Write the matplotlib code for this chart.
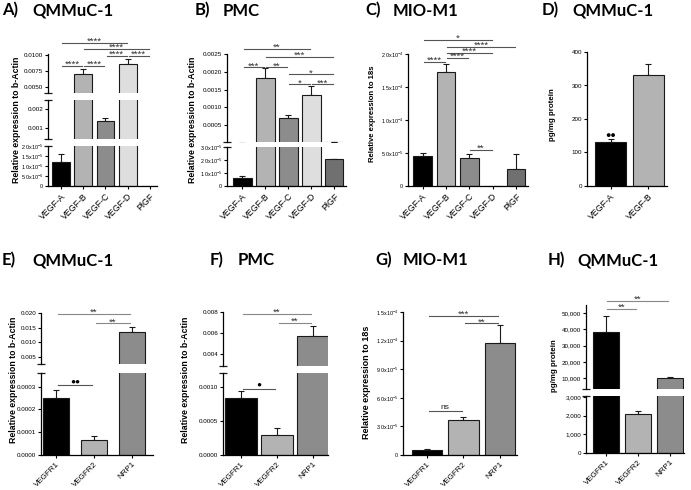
import numpy as np
import matplotlib
matplotlib.use("Agg")
import matplotlib.pyplot as plt

plt.rcParams['font.family'] = ['Liberation Sans', 'DejaVu Sans']
plt.rcParams['mathtext.fontset'] = 'custom'
plt.rcParams['mathtext.rm'] = 'Liberation Sans'
plt.rcParams['mathtext.it'] = 'Liberation Sans:italic'
plt.rcParams['mathtext.bf'] = 'Liberation Sans:bold'

W, H = 691, 490

# ---- data ----
vegf_labels = ["VEGF-A", "VEGF-B", "VEGF-C", "VEGF-D", "PlGF"]
rec_labels = ["VEGFR1", "VEGFR2", "NRP1"]
elisa_labels = ["VEGF-A", "VEGF-B"]

qmm_vegf = [1.2e-5, 0.0070, 0.00137, 0.0085, 0.0]
qmm_vegf_err = [0.4e-5, 0.0008, 0.00016, 0.0008, 0.0]
pmc_vegf = [6e-6, 0.00183, 0.00070, 0.00135, 2.05e-5]
pmc_vegf_err = [2e-6, 0.00028, 0.00010, 0.00025, 0.05e-5]
mio_vegf = [4.6e-5, 1.72e-4, 4.3e-5, 0.0, 2.6e-5]
mio_vegf_err = [0.4e-5, 0.13e-4, 0.5e-5, 0.0, 2.3e-5]
qmm_elisa = [130, 330]
qmm_elisa_err = [10, 35]

qmm_rec = [0.00025, 0.000067, 0.0135]
qmm_rec_err = [0.000035, 0.000015, 0.0017]
pmc_rec = [0.00083, 0.00030, 0.0057]
pmc_rec_err = [0.00011, 0.00009, 0.0010]
mio_rec = [5.5e-6, 3.7e-5, 1.17e-4]
mio_rec_err = [0.5e-6, 0.3e-5, 0.19e-4]
qmm_rec_elisa = [38500, 2100, 10300]
qmm_rec_elisa_err = [9500, 150, 500]

# significance brackets: (bar i, bar j, height, label)
sig_a = [(0, 3, 0.0118, "****"), (1, 4, 0.0109, "****"), (2, 3, 0.0098, "****"),
         (3, 4, 0.0098, "****"), (0, 1, 0.0082, "****"), (1, 2, 0.0082, "****")]
sig_b = [(0, 3, 0.00264, "**"), (1, 4, 0.00242, "***"), (0, 1, 0.00213, "***"),
         (1, 2, 0.00213, "**"), (2, 4, 0.00193, "*"), (2, 3, 0.00165, "*"),
         (3, 4, 0.00165, "***")]
sig_c = [(0, 3, 2.21e-4, "*"), (1, 4, 2.11e-4, "****"), (1, 3, 2.02e-4, "****"),
         (1, 2, 1.94e-4, "****"), (0, 1, 1.88e-4, "****"), (2, 3, 5.45e-5, "**")]
sig_e_top = [(0, 2, 0.0197, "**"), (1, 2, 0.0165, "**")]
sig_e_low = [(0, 1, 0.000307, "●●")]
sig_f_top = [(0, 2, 0.0078, "**"), (1, 2, 0.0070, "**")]
sig_f_low = [(0, 1, 0.00097, "●")]
sig_g = [(0, 2, 1.46e-4, "***"), (1, 2, 1.38e-4, "**"), (0, 1, 4.6e-5, "ns")]
sig_h = [(0, 2, 57400, "**"), (0, 1, 52500, "**")]

# tick labels
a_low_ticks = ["0", "5.0x10$^{-6}$", "1.0x10$^{-5}$", "1.5x10$^{-5}$", "2.0x10$^{-5}$"]
b_low_ticks = ["0", "1.0x10$^{-5}$", "2.0x10$^{-5}$", "3.0x10$^{-5}$"]
c_ticks = ["0", "5.0x10$^{-5}$", "1.0x10$^{-4}$", "1.5x10$^{-4}$", "2.0x10$^{-4}$"]
g_ticks = ["0", "3.0x10$^{-5}$", "6.0x10$^{-5}$", "9.0x10$^{-5}$", "1.2x10$^{-4}$",
           "1.5x10$^{-4}$"]

vegf_colors = ['#000000', '#b3b3b3', '#8c8c8c', '#dedede', '#707070']
rec_colors = ['#000000', '#b3b3b3', '#8c8c8c']
elisa_colors = ['#000000', '#b3b3b3']

fig = plt.figure(figsize=(W / 100, H / 100), dpi=100)
EDGE = '#1a1a1a'


def px_axes(x0, x1, yb, yt):
    return fig.add_axes([x0 / W, 1 - yb / H, (x1 - x0) / W, (yb - yt) / H])


def draw_panel(x0, x1, segments, labels, values, errs, colors, xlim, width, xfs=6.3):
    """segments: bottom first, (ylo, yhi, px_bottom, px_top, ticks, ticklabels)"""
    axes = []
    n = len(segments)
    x = np.arange(len(values))
    for k, (ylo, yhi, pb, pt, ticks, tlabels) in enumerate(segments):
        ax = px_axes(x0, x1, pb, pt)
        ax.bar(x, values, width, color=colors, edgecolor=EDGE, linewidth=0.8, zorder=2)
        has = [i for i in range(len(errs)) if errs[i] > 0]
        ax.errorbar([x[i] for i in has], [values[i] for i in has],
                    yerr=[[0] * len(has), [errs[i] for i in has]], fmt='none',
                    ecolor=EDGE, elinewidth=0.8, capsize=2.5, capthick=0.8, zorder=1)
        ax.set_xlim(*xlim)
        ax.set_ylim(ylo, yhi)
        ax.set_yticks(ticks)
        ax.set_yticklabels(tlabels)
        exp_labels = any('$' in t for t in tlabels)
        ax.tick_params(axis='y', direction='out', length=2.5, width=0.8,
                       labelsize=3.9 if exp_labels else 4.5, pad=1)
        for s in ['top', 'right']:
            ax.spines[s].set_visible(False)
        ax.spines['left'].set_linewidth(0.9)
        ax.patch.set_alpha(0)
        if k == 0:
            ax.spines['bottom'].set_linewidth(0.9)
            ax.set_xticks(x)
            ax.set_xticklabels(labels, rotation=45, ha='right', rotation_mode='anchor',
                               fontsize=xfs)
            ax.tick_params(axis='x', direction='out', length=2.5, width=0.8, pad=1.5)
        else:
            ax.spines['bottom'].set_visible(False)
            ax.set_xticks([])
            ax.plot([0], [0], marker='_', ms=6, mew=0.9, color=EDGE,
                    transform=ax.transAxes, clip_on=False)
        if k < n - 1:
            ax.plot([0], [1], marker='_', ms=6, mew=0.9, color=EDGE,
                    transform=ax.transAxes, clip_on=False)
        axes.append(ax)
    return axes


def add_sig(ax, sigs, color='#555555'):
    for i, j, y, txt in sigs:
        ax.plot([i + 0.05, j - 0.05], [y, y], color=color, lw=0.8, clip_on=False, zorder=3)
        if '●' in txt:
            ax.text((i + j) / 2, y, txt, ha='center', va='bottom', fontsize=6,
                    color='black', clip_on=False)
        elif txt == 'ns':
            ax.text((i + j) / 2, y, txt, ha='center', va='bottom', fontsize=6,
                    color='#222222', clip_on=False)
        else:
            ax.annotate(txt, ((i + j) / 2, y), xytext=(0, -2.2), textcoords='offset points',
                        ha='center', va='bottom', fontsize=6.8, color='#333333',
                        annotation_clip=False)


def ylabel(x, yc, txt, fs=6.3):
    fig.text(x / W, 1 - yc / H, txt, rotation=90, ha='center', va='center',
             fontsize=fs, fontweight='bold')


def title(x_letter, x_name, base, letter, name):
    fig.text(x_letter / W, 1 - base / H, letter, ha='left', va='baseline',
             fontsize=12, fontweight='bold', family='Lato')
    fig.text(x_name / W, 1 - base / H, name, ha='left', va='baseline',
             fontsize=12, fontweight='bold', family='Lato')


# ---- A ----
ax_a = draw_panel(48, 157, [
    (0, 2e-5, 186, 146, [0, 5e-6, 1e-5, 1.5e-5, 2e-5], a_low_ticks),
    (0.0004, 0.0025, 139, 100, [0.001, 0.002], ["0.001", "0.002"]),
    (0.004, 0.0101, 93, 54, [0.005, 0.0075, 0.01], ["0.0050", "0.0075", "0.0100"]),
], vegf_labels, qmm_vegf, qmm_vegf_err, vegf_colors, (-0.585, 4.32), 0.8)
add_sig(ax_a[-1], sig_a)
ylabel(17, 120, "Relative expression to b-Actin")
title(2, 32, 15.5, "A)", "QMMuC-1")

# ---- B ----
ax_b = draw_panel(227, 346, [
    (0, 3e-5, 186, 147, [0, 1e-5, 2e-5, 3e-5], b_low_ticks),
    (3e-5, 0.0025, 142, 54, [0.0005, 0.001, 0.0015, 0.002, 0.0025],
     ["0.0005", "0.0010", "0.0015", "0.0020", "0.0025"]),
], vegf_labels, pmc_vegf, pmc_vegf_err, vegf_colors, (-0.67, 4.52), 0.82)
add_sig(ax_b[-1], sig_b)
ylabel(192, 120, "Relative expression to b-Actin")
title(195, 223, 15.5, "B)", "PMC")

# ---- C ----
ax_c = draw_panel(408, 528, [
    (0, 2e-4, 186, 54, [0, 5e-5, 1e-4, 1.5e-4, 2e-4], c_ticks),
], vegf_labels, mio_vegf, mio_vegf_err, vegf_colors, (-0.62, 4.51), 0.8)
add_sig(ax_c[-1], sig_c)
ylabel(373, 114, "Relative expression to 18s", fs=5.6)
title(365, 393, 15.5, "C)", "MIO-M1")

# ---- D ----
ax_d = draw_panel(587, 667, [
    (0, 400, 186, 52, [0, 100, 200, 300, 400], ["0", "100", "200", "300", "400"]),
], elisa_labels, qmm_elisa, qmm_elisa_err, elisa_colors, (-0.62, 1.49), 0.82)
ax_d[0].text(0, 150, "●●", ha='center', va='center', fontsize=6.5)
ylabel(553, 115, "pg/mg protein", fs=5.7)
title(542, 572, 15.5, "D)", "QMMuC-1")

# ---- E ----
ax_e = draw_panel(41, 153, [
    (0, 0.00036, 455, 373, [0, 0.0001, 0.0002, 0.0003],
     ["0.0000", "0.0001", "0.0002", "0.0003"]),
    (0.0027, 0.020, 364, 313, [0.005, 0.010, 0.015, 0.020],
     ["0.005", "0.010", "0.015", "0.020"]),
], rec_labels, qmm_rec, qmm_rec_err, rec_colors, (-0.39, 2.55), 0.68, xfs=5.8)
add_sig(ax_e[-1], sig_e_top, color='#888888')
add_sig(ax_e[0], sig_e_low)
ylabel(14, 380, "Relative expression to b-Actin")
title(2, 32, 265, "E)", "QMMuC-1")

# ---- F ----
ax_f = draw_panel(223, 328, [
    (0, 0.0012, 455, 373, [0, 0.0005, 0.001], ["0.0000", "0.0005", "0.0010"]),
    (0.00286, 0.008, 366, 312, [0.004, 0.006, 0.008], ["0.004", "0.006", "0.008"]),
], rec_labels, pmc_rec, pmc_rec_err, rec_colors, (-0.5, 2.42), 0.88, xfs=5.8)
add_sig(ax_f[-1], sig_f_top, color='#888888')
add_sig(ax_f[0], sig_f_low)
ylabel(186, 380, "Relative expression to b-Actin")
title(210, 238, 265, "F)", "PMC")

# ---- G ----
ax_g = draw_panel(403, 517, [
    (0, 1.5e-4, 455, 312, [0, 3e-5, 6e-5, 9e-5, 1.2e-4, 1.5e-4], g_ticks),
], rec_labels, mio_rec, mio_rec_err, rec_colors, (-0.66, 2.47), 0.83, xfs=5.8)
add_sig(ax_g[-1], sig_g)
ylabel(367, 382, "Relative expression to 18s", fs=6.5)
title(375, 403, 265, "G)", "MIO-M1")

# ---- H ----
ax_h = draw_panel(586, 684, [
    (0, 3050, 453, 396, [0, 1000, 2000, 3000], ["0", "1,000", "2,000", "3,000"]),
    (3230, 55000, 389, 305, [10000, 20000, 30000, 40000, 50000],
     ["10,000", "20,000", "30,000", "40,000", "50,000"]),
], rec_labels, qmm_rec_elisa, qmm_rec_elisa_err, rec_colors, (-0.62, 2.44), 0.81, xfs=5.8)
add_sig(ax_h[-1], sig_h, color='#888888')
ylabel(554, 366, "pg/mg protein", fs=5.7)
title(548, 577, 265, "H)", "QMMuC-1")

fig.savefig("out.png", dpi=100)
